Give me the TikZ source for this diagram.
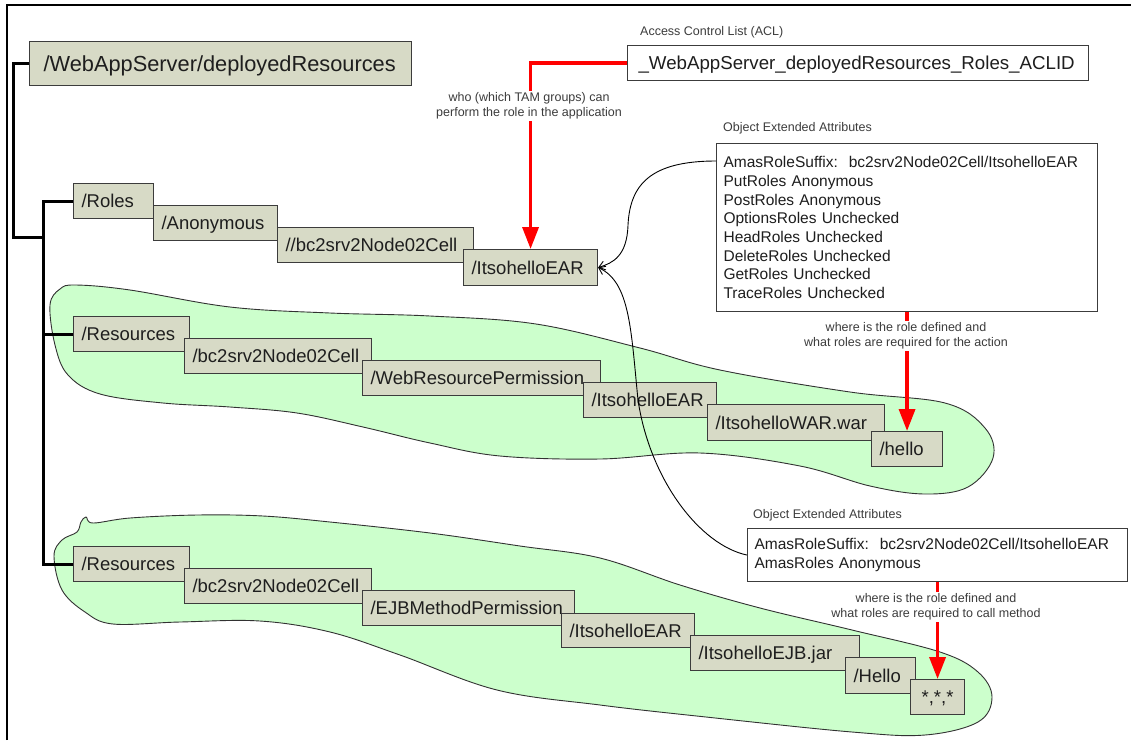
\documentclass[tikz,border=0pt]{standalone}
\usepackage{fontspec}
\setmainfont{Liberation Sans}
\usetikzlibrary{arrows.meta,calc}
\definecolor{boxfill}{RGB}{215,218,198}
\definecolor{boxline}{RGB}{60,60,60}
\definecolor{blobfill}{RGB}{204,255,204}
\definecolor{blobline}{RGB}{50,50,50}
\definecolor{lblgray}{RGB}{60,60,60}
\definecolor{txtdark}{RGB}{30,30,30}
\begin{document}
\begin{tikzpicture}[x=1pt,y=-1pt,
  frame/.style={line width=1.5pt,black},
  treeline/.style={line width=3pt,black},
  blob/.style={fill=blobfill,draw=blobline,line width=0.9pt},
  tbox/.style={draw=boxline,fill=boxfill,line width=1.1pt,anchor=north west,
    inner xsep=8pt,inner ysep=0pt,align=left,text=txtdark,
    font=\fontsize{18.5}{22}\selectfont,text height=15pt,text depth=1.8pt,
    minimum height=35pt},
  rootbox/.style={tbox,inner xsep=14pt,font=\fontsize{21.8}{26}\selectfont,
    text height=17pt,text depth=1.4pt,minimum height=44pt},
  aclbox/.style={draw=boxline,fill=white,line width=1.1pt,anchor=north west,
    inner xsep=11pt,inner ysep=0pt,align=left,text=txtdark,
    font=\fontsize{18.7}{22}\selectfont,text height=15pt,text depth=1.8pt,
    minimum height=35pt},
  attrbox/.style={draw=boxline,fill=white,line width=1.1pt,anchor=north west,
    inner xsep=7pt,inner ysep=0pt,align=left,text=txtdark,
    font=\fontsize{15.5}{18.7}\selectfont},
  lbl/.style={text=lblgray,font=\fontsize{12.5}{14.5}\selectfont,inner sep=1pt},
  gaplbl/.style={lbl,fill=white,align=center,inner sep=2pt},
  redarrow/.style={red,line width=3.5pt,-{Triangle[length=22pt,width=16pt]}},
  conn/.style={black,line width=0.9pt,-{Straight Barb[length=6pt,width=9pt]}}
]
\useasboundingbox (0,0) rectangle (1132,740);

% frame
\draw[frame] (7,740) -- (7,5) -- (1131,5);

% green groups
\draw[blob] plot[smooth cycle,tension=0.6] coordinates {
  (50,305) (60,289) (76,285) (130,290) (230,307) (330,313) (430,316)
  (536,324) (640,348) (720,370) (850,392) (945,403) (985,428) (993,458)
  (968,487) (925,494) (870,486) (800,466) (700,453) (600,459) (500,456)
  (430,443) (363,427) (297,413) (230,407) (163,403) (100,394) (68,375)
  (55,345)};
\draw[blob] plot[smooth cycle,tension=0.6] coordinates {
  (54,556) (62,540) (77,532) (81,522) (86,517) (93,523) (130,518)
  (197,515) (263,516) (330,522) (430,533) (520,546) (600,558) (680,585)
  (760,608) (852,630) (940,652) (978,672) (992,697) (978,722) (925,735)
  (852,732) (706,717) (600,705) (497,690) (400,655) (330,632) (260,621)
  (180,622) (113,624) (85,612) (62,590)};

% root
\node[rootbox,text width=354pt] (root) at (29,41) {/WebAppServer/deployedResources};

% roles chain
\node[tbox,text width=64pt]  (r1) at (73,183)  {/Roles};
\node[tbox,text width=108pt] (r2) at (153,205) {/Anonymous};
\node[tbox,text width=180pt] (r3) at (277,227) {//bc2srv2Node02Cell};
\node[tbox,text width=118pt,minimum height=36pt] (r4) at (463,249) {/ItsohelloEAR};

% web resources chain
\node[tbox,text width=100pt] (w1) at (73,316)  {/Resources};
\node[tbox,text width=171pt] (w2) at (184,338) {/bc2srv2Node02Cell};
\node[tbox,text width=222pt] (w3) at (362,360) {/WebResourcePermission};
\node[tbox,text width=117pt] (w4) at (583,382) {/ItsohelloEAR};
\node[tbox,text width=161pt,minimum height=36pt] (w5) at (707,404) {/ItsohelloWAR.war};
\node[tbox,text width=55pt]  (w6) at (871,431) {/hello};

% ejb chain
\node[tbox,text width=100pt] (e1) at (73,546)  {/Resources};
\node[tbox,text width=171pt] (e2) at (184,568) {/bc2srv2Node02Cell};
\node[tbox,text width=196pt] (e3) at (362,590) {/EJBMethodPermission};
\node[tbox,text width=117pt,minimum height=34pt] (e4) at (561,613) {/ItsohelloEAR};
\node[tbox,text width=153pt] (e5) at (690,635) {/ItsohelloEJB.jar};
\node[tbox,text width=54pt,minimum height=36pt] (e6) at (845,657) {/Hello};
\node[tbox,align=center,minimum width=54pt,inner xsep=0pt] (e7) at (910,679) {*,*,*};

% tree lines
\coordinate (trunk) at (13,237);
\coordinate (j) at (43,237);
\draw[treeline] (root.west) -- (root.west -| trunk) -- (trunk) -- (j);
\draw[treeline] (r1.west) -- (r1.west -| j) -- (e1.west -| j) -- (e1.west);
\draw[treeline] (w1.west -| j) -- (w1.west);

% ACL
\node[lbl,anchor=west] (acllbl) at (639,32) {Access Control List (ACL)};
\node[aclbox,text width=439pt] (acl) at (627,45) {\_WebAppServer\_deployedResources\_Roles\_ACLID};

% attribute boxes
\node[lbl,anchor=west] (oea1) at (722,128) {Object Extended Attributes};
\node[attrbox,text width=367pt,minimum height=168pt] (a1) at (716,143)
  {\mbox{AmasRoleSuffix:\hspace{11pt}bc2srv2Node02Cell/ItsohelloEAR}\\
   PutRoles Anonymous\\
   PostRoles Anonymous\\
   OptionsRoles Unchecked\\
   HeadRoles Unchecked\\
   DeleteRoles Unchecked\\
   GetRoles Unchecked\\
   TraceRoles Unchecked};
\node[lbl,anchor=west] (oea2) at (752,515) {Object Extended Attributes};
\node[attrbox,text width=366pt,minimum height=53pt] (a2) at (747,528)
  {\mbox{AmasRoleSuffix:\hspace{11pt}bc2srv2Node02Cell/ItsohelloEAR}\\
   AmasRoles Anonymous};

% red arrows
\draw[redarrow] (acl.west) -| (r4.north);
\draw[redarrow] (a1.south) -- (w6.north);
\draw[redarrow] (a2.south) -- (e7.north);
\node[gaplbl] (who) at (529,106) {who (which TAM groups) can\\perform the role in the application};
\node[gaplbl] (where1) at (906,336) {where is the role defined and\\what roles are required for the action};
\node[gaplbl] (where2) at (936,607) {where is the role defined and\\what roles are required to call method};

% thin connectors
\coordinate (a1p) at ($(a1.north west)+(0,18)$);
\draw[conn] (a1p) .. controls (650,161) and (630,185) .. (628,225)
  .. controls (627,256) and (613,263) .. (r4.east);
\draw[conn] (a2.west) .. controls (700,545) and (650,480) .. (638,400)
  .. controls (631,330) and (630,282) .. (r4.east);
\end{tikzpicture}
\end{document}
